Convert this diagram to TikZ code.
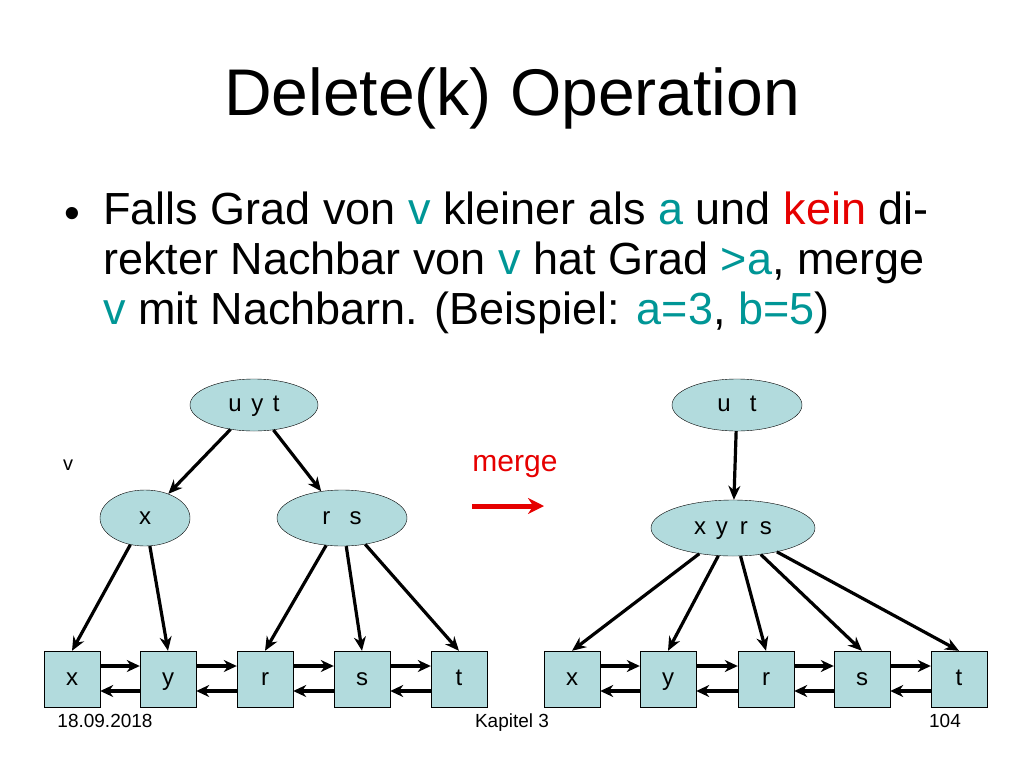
\documentclass[tikz,border=0pt]{standalone}
\usepackage{fontspec}
\setmainfont{Liberation Sans}
\usetikzlibrary{arrows.meta}
\usetikzlibrary{shapes.geometric}
\definecolor{nodefill}{RGB}{178,219,221}
\definecolor{hl}{RGB}{0,150,150}
\definecolor{warn}{RGB}{230,0,0}
\begin{document}
\begin{tikzpicture}[x=1pt,y=-1pt]
		\tikzstyle{inner} = [ellipse, draw, fill=nodefill, inner sep=0pt, text height=17pt, text depth=5pt, font=\fontsize{24}{26}\selectfont]
		\tikzstyle{leaf} = [rectangle, draw, fill=nodefill, minimum width=56pt, minimum height=56pt, inner sep=0pt, text height=17pt, text depth=5pt, font=\fontsize{24}{26}\selectfont]
		\tikzstyle{ptr} = [-{Stealth[length=14pt,width=12pt]}, line width=3.2pt]
		\tikzstyle{lnk} = [-{Stealth[length=13pt,width=12pt]}, line width=3.2pt]
		\useasboundingbox (0,0) rectangle (1024,768);
		
		\node [font=\fontsize{66}{74}\selectfont] (title) at (512,98) {Delete(k) Operation};
		\node [font=\fontsize{45}{50}\selectfont, anchor=north west, align=left, inner sep=0pt] (text) at (103,192) {Falls Grad von \textcolor{hl}{v} kleiner als \textcolor{hl}{a} und \textcolor{warn}{kein} di-\\rekter Nachbar von \textcolor{hl}{v} hat Grad \textcolor{hl}{>a}, merge\\\textcolor{hl}{v} mit Nachbarn. (Beispiel: \textcolor{hl}{a=3}, \textcolor{hl}{b=5})};
		\node [font=\fontsize{45}{50}\selectfont, inner sep=0pt] (bullet) at (72,218) {\textbullet};
		
		% left tree
		\node [inner, minimum width=128pt, minimum height=52pt] (L) at (254,405) {u\hspace{0.4em}y\hspace{0.4em}t};
		\node [inner, minimum width=90pt, minimum height=56pt] (Lx) at (145,518) {x};
		\node [inner, minimum width=130pt, minimum height=56pt] (Lrs) at (342,518) {r\hspace{0.8em}s};
		\foreach \n/\x in {x/72, y/168, r/265, s/362, t/459}
			\node [leaf] (l\n) at (\x,679) {\n};
		\draw [ptr] (L) -- (Lx);
		\draw [ptr] (L) -- (Lrs);
		\draw [ptr] (Lx) -- (lx.north);
		\draw [ptr] (Lx) -- (ly.north);
		\draw [ptr] (Lrs) -- (lr.north);
		\draw [ptr] (Lrs) -- (ls.north);
		\draw [ptr] (Lrs) -- (lt.north);
		\foreach \a/\b in {x/y, y/r, r/s, s/t} {
			\draw [lnk] ([yshift=13pt]l\a.east) -- ([yshift=13pt]l\b.west);
			\draw [lnk] ([yshift=-12pt]l\b.west) -- ([yshift=-12pt]l\a.east);
		}
		\node [font=\fontsize{20}{24}\selectfont] (v) at (68,465) {v};
		
		% merge
		\node [font=\fontsize{30}{34}\selectfont, text=warn] (m) at (515,467) {merge};
		\coordinate (m1) at (472,506);
		\coordinate (m2) at (544,506);
		\draw [-{Stealth[length=16pt,width=16pt]}, line width=5pt, warn] (m1) -- (m2);
		
		% right tree
		\node [inner, minimum width=130pt, minimum height=52pt] (R) at (737,405) {u\hspace{0.8em}t};
		\node [inner, minimum width=164pt, minimum height=56pt] (Rm) at (733,528) {x\hspace{0.4em}y\hspace{0.5em}r\hspace{0.5em}s};
		\foreach \n/\x in {x/572, y/668, r/766, s/862, t/959}
			\node [leaf] (r\n) at (\x,679) {\n};
		\draw [ptr] (R) -- (Rm);
		\foreach \n in {x, y, r, s, t}
			\draw [ptr] (Rm) -- (r\n.north);
		\foreach \a/\b in {x/y, y/r, r/s, s/t} {
			\draw [lnk] ([yshift=13pt]r\a.east) -- ([yshift=13pt]r\b.west);
			\draw [lnk] ([yshift=-12pt]r\b.west) -- ([yshift=-12pt]r\a.east);
		}
		
		% footer
		\node [font=\fontsize{19}{20}\selectfont, anchor=base] (date) at (105,727) {18.09.2018};
		\node [font=\fontsize{19}{20}\selectfont, anchor=base] (chap) at (512,727) {Kapitel 3};
		\node [font=\fontsize{19}{20}\selectfont, anchor=base] (page) at (945,727) {104};
	\end{tikzpicture}
\end{document}
